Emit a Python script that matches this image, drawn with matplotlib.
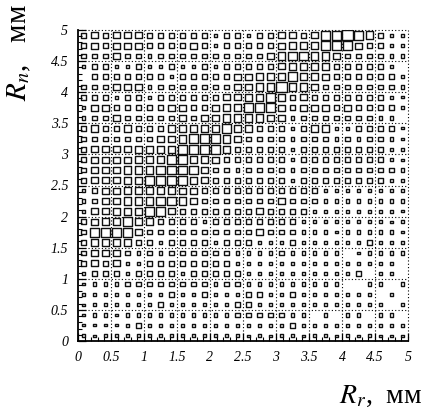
import matplotlib
matplotlib.use("Agg")
import matplotlib.pyplot as plt
from matplotlib.patches import Rectangle
from matplotlib.collections import PatchCollection
import numpy as np

plt.rcParams['font.family'] = ['Liberation Serif', 'DejaVu Serif']
plt.rcParams['mathtext.fontset'] = 'stix'

# 30x30 box histogram, rows listed from the top (R_n = 5) down to R_n = 0
x_min, x_max, n_bins = 0.0, 5.0, 30
counts_top_down = [
    [3,4,3,4,4,4,3,3,3,3, 3,3,2,3,3,2,3,3,4,4, 3,4,6,6,7,6,5,3,2,2],
    [3,4,3,4,4,4,3,3,3,3, 4,3,2,3,3,3,3,3,4,5, 5,5,6,6,6,4,3,3,2,2],
    [3,3,3,4,3,3,2,3,3,3, 3,3,3,3,3,3,3,4,5,6, 6,5,5,4,3,3,3,3,2,2],
    [2,3,3,2,2,3,2,2,3,2, 2,3,2,3,3,3,3,3,4,5, 5,5,5,3,3,3,3,3,2,0],
    [0,3,3,3,3,3,3,3,2,3, 3,3,3,3,4,4,5,5,5,6, 5,5,4,3,3,3,3,3,3,2],
    [3,3,3,4,4,4,2,3,3,3, 3,3,3,3,4,4,5,5,7,5, 5,4,3,3,3,3,3,3,3,2],
    [3,3,3,2,3,3,2,3,3,3, 3,3,3,4,4,5,5,6,5,3, 4,3,3,3,3,3,3,3,2,1],
    [2,4,4,3,3,3,3,3,4,4, 3,3,4,5,5,6,6,6,4,3, 4,4,4,3,4,3,3,3,3,2],
    [2,3,3,4,3,3,3,3,3,4, 3,4,4,5,5,5,5,4,4,2, 3,3,3,3,3,3,3,2,2,0],
    [3,4,3,3,4,3,3,3,4,5, 5,5,5,6,5,4,3,3,3,2, 3,4,4,2,2,3,3,3,3,1],
    [3,3,3,3,3,3,3,4,4,5, 6,6,6,5,4,3,3,3,3,2, 3,3,3,2,3,2,3,3,2,1],
    [3,4,4,4,4,5,5,5,5,6, 6,6,6,5,3,3,3,3,3,2, 3,3,3,3,3,3,3,3,2,2],
    [3,4,4,4,4,5,5,5,6,6, 5,5,4,3,3,3,3,3,3,2, 3,3,3,3,3,3,3,3,2,1],
    [3,4,4,4,5,5,5,6,6,6, 6,4,3,3,2,3,3,3,3,2, 3,3,3,3,3,3,3,3,3,2],
    [3,4,4,4,5,5,6,6,6,6, 5,4,3,3,3,3,3,3,3,2, 3,3,3,3,3,3,3,3,2,2],
    [2,3,4,4,5,5,5,5,5,4, 4,3,3,3,3, 3,3,3,3,3,3,3,2,2,2,2,2,2,2,2],
    [2,3,4,4,5,5,5,6,6,5, 4,3,3,3,3, 3,3,3,4,3,3,3,2,2,2,2,2,2,2,2],
    [2,4,4,5,5,5,6,6,4,3, 3,3,3,3,3, 3,4,3,3,3,3,2,2,2,2,2,2,2,2,1],
    [3,4,5,5,6,5,5,3,3,3, 3,2,3,3,3, 3,3,3,3,3,2,2,2,2,2,2,2,2,1,2],
    [3,6,6,6,6,4,3,3,3,3, 3,3,3,3,3, 3,4,3,3,3,2,2,2,1,2,2,2,2,2,1],
    [3,5,5,5,4,3,3,2,3,3, 3,3,2,3,3, 3,2,2,2,3,2,2,2,2,2,2,3,2,2,2],
    [3,4,4,4,3,2,3,2,3,3, 3,3,3,3,2, 2,2,2,3,2,2,2,2,2,0,1,2,2,2,2],
    [3,4,3,4,2,2,3,3,3,3, 3,3,3,3,2, 2,2,2,2,2,2,2,2,2,2,2,2,2,2,0],
    [2,3,3,3,2,3,3,3,3,2, 3,3,3,3,3, 2,2,2,2,2,2,2,2,2,2,3,0,2,2,0],
    [1,2,2,2,3,3,3,3,3,3, 3,3,2,3,3, 2,2,2,2,2,2,2,2,2,0,0,2,2,0,2],
    [2,2,2,2,2,2,2,2,3,2, 2,3,2,2,2, 3,3,2,2,3,2,2,2,2,2,2,2,0,2,0],
    [1,2,2,2,2,2,2,3,2,2, 2,2,2,2,3, 3,2,2,2,2,2,2,2,2,2,2,2,2,0,2],
    [1,2,2,1,2,2,2,2,2,2, 2,2,2,2,3, 3,3,3,3,2,2,0,2,0,2,2,0,2,2,0],
    [1,1,1,1,2,3,2,2,2,2, 2,2,2,2,2, 2,2,2,2,3,2,2,2,2,2,2,2,2,2,2],
    [2,1,2,2,2,2,2,2,2,2, 2,2,2,2,2, 1,2,1,2,2,1,2,2,1,2,1,2,1,1,1],
]
tick_values = [0, 0.5, 1, 1.5, 2, 2.5, 3, 3.5, 4, 4.5, 5]
tick_labels = ['0', '0.5', '1', '1.5', '2', '2.5', '3', '3.5', '4', '4.5', '5']

counts = np.array(counts_top_down[::-1], dtype=float)  # row 0 = bottom
edges = np.linspace(x_min, x_max, n_bins + 1)
centers = 0.5 * (edges[:-1] + edges[1:])
bw = edges[1] - edges[0]
vmax = counts.max()

fig = plt.figure(figsize=(4.27, 4.17), dpi=100)
ax = fig.add_axes([78/427, 1 - 341/417, 330/427, 311/417])
ax.set_xlim(x_min, x_max)
ax.set_ylim(x_min, x_max)

boxes = []
for j in range(n_bins):
    for i in range(n_bins):
        v = counts[j, i]
        if v <= 0:
            continue
        s = (v + 0.5) / (vmax + 0.5) * bw * 0.97
        boxes.append(Rectangle((centers[i] - s/2, centers[j] - s/2), s, s))
ax.add_collection(PatchCollection(boxes, facecolor='none', edgecolor='#111111', linewidth=1.0))

# dotted grid every 0.5
for t in tick_values[1:]:
    ax.axvline(t, color='black', lw=0.8, ls=(0, (1, 2)), clip_on=False, zorder=0.5)
    ax.axhline(t, color='black', lw=0.8, ls=(0, (1, 2)), clip_on=False, zorder=0.5)

ax.spines['top'].set_visible(False)
ax.spines['right'].set_visible(False)
ax.spines['left'].set_linewidth(1.3)
ax.spines['bottom'].set_linewidth(1.3)

ax.set_xticks(tick_values)
ax.set_yticks(tick_values)
ax.set_xticklabels(tick_labels, fontstyle='italic', fontsize=10)
ax.set_yticklabels(tick_labels, fontstyle='italic', fontsize=10)
ax.set_xticks(np.arange(0, 5.01, 0.1), minor=True)
ax.set_yticks(np.arange(0, 5.01, 0.1), minor=True)
ax.tick_params(which='major', direction='in', length=6, width=0.9, pad=7)
ax.tick_params(which='minor', direction='in', length=3, width=0.8)

fig.text(422/427, 1 - 396/417, r'$R_r$,  мм', ha='right', va='center', fontsize=20)
fig.text(19/427, 1 - 4/417, r'$R_n$,   мм', ha='center', va='top', rotation=90, fontsize=21)

fig.savefig('out.png', dpi=100)
